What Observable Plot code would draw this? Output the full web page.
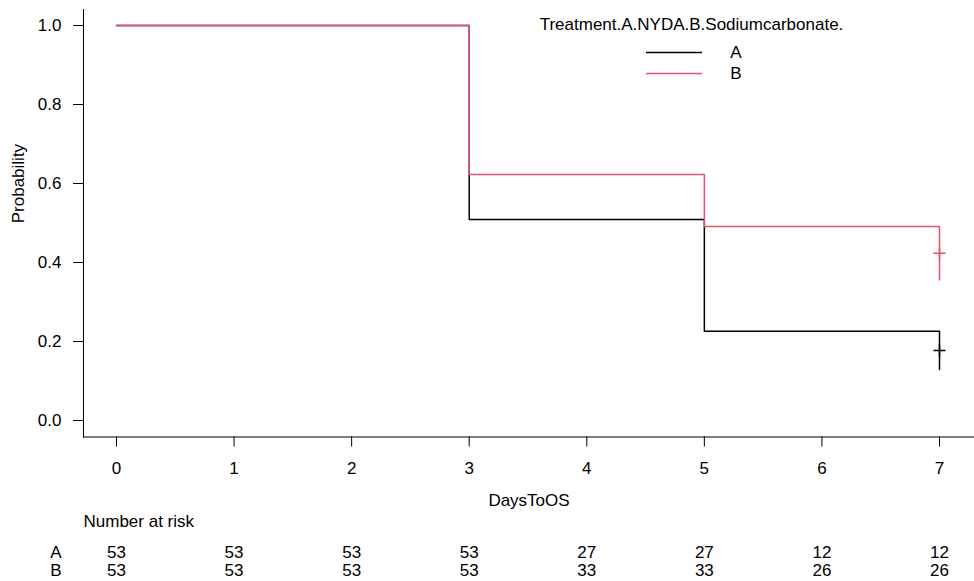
<!DOCTYPE html>
<html>
<head>
<meta charset="utf-8">
<script src="https://cdn.jsdelivr.net/npm/d3@7"></script>
<script src="https://cdn.jsdelivr.net/npm/@observablehq/plot@0.6"></script>
<style>
  html, body { margin: 0; padding: 0; background: #fff; }
  #chart { width: 974px; height: 581px; }
</style>
</head>
<body>
<div id="chart"></div>
<script>
// ---- data ----
const groups = ["A", "B"];
const groupColors = ["#000000", "#DF536B"];
const legendTitle = "Treatment.A.NYDA.B.Sodiumcarbonate.";

const stepTimes = [0, 3, 5, 7];
const survA = [1.0, 0.509, 0.226, 0.129];
const survB = [1.0, 0.623, 0.491, 0.356];

const censorTimes = [7];
const censorA = [0.177];
const censorB = [0.4235];

const riskTimes = [0, 1, 2, 3, 4, 5, 6, 7];
const riskA = [53, 53, 53, 53, 27, 27, 12, 12];
const riskB = [53, 53, 53, 53, 33, 33, 26, 26];

const yTicks = [0, 0.2, 0.4, 0.6, 0.8, 1.0];
const xLabel = "DaysToOS";
const yLabel = "Probability";
const riskTitle = "Number at risk";

// ---- tables built from the arrays ----
const curves = [
  ...stepTimes.map((t, i) => ({group: "A", time: t, surv: survA[i]})),
  ...stepTimes.map((t, i) => ({group: "B", time: t, surv: survB[i]}))
];
const censors = [
  ...censorTimes.map((t, i) => ({group: "A", time: t, surv: censorA[i]})),
  ...censorTimes.map((t, i) => ({group: "B", time: t, surv: censorB[i]}))
];
const riskRowA = riskTimes.map((t, i) => ({time: t, n: riskA[i]}));
const riskRowB = riskTimes.map((t, i) => ({time: t, n: riskB[i]}));

const font = "'Liberation Sans', Arial, Helvetica, sans-serif";
const fs = "17px";

const plot = Plot.plot({
  width: 974,
  height: 581,
  marginLeft: 83,
  marginRight: 0,
  marginTop: 9,
  marginBottom: 144.5,
  style: {fontFamily: font, fontSize: fs, color: "#000", background: "#fff"},
  x: {domain: [0, 7], insetLeft: 33, insetRight: 35},
  y: {domain: [0, 1], insetTop: 16, insetBottom: 16.5},
  color: {domain: groups, range: groupColors},
  marks: [
    Plot.frame({anchor: "left", stroke: "#000"}),
    Plot.frame({anchor: "bottom", stroke: "#000"}),
    Plot.axisY({ticks: yTicks, tickSize: 10, tickPadding: 12, tickFormat: d3.format(".1f"), label: null, stroke: "#000"}),
    Plot.axisX({ticks: riskTimes, tickSize: 10, tickPadding: 15, tickFormat: d3.format("d"), label: null, stroke: "#000"}),
    Plot.line(curves, {x: "time", y: "surv", z: "group", stroke: "group", curve: "step-after", strokeWidth: 1.5}),
    Plot.dot(censors, {x: "time", y: "surv", stroke: "group", symbol: "plus", r: 4, strokeWidth: 1.5}),
    Plot.text([xLabel], {text: d => d, frameAnchor: "bottom", dy: 63.5, lineAnchor: "middle"}),
    Plot.text([yLabel], {text: d => d, frameAnchor: "left", dx: -65, rotate: -90, lineAnchor: "middle"}),
    Plot.text([riskTitle], {text: d => d, frameAnchor: "bottom-left", dy: 84.5, textAnchor: "start", lineAnchor: "middle"}),
    Plot.text(["A"], {text: d => d, frameAnchor: "bottom-left", dx: -27.5, dy: 115.5, textAnchor: "middle", lineAnchor: "middle"}),
    Plot.text(["B"], {text: d => d, frameAnchor: "bottom-left", dx: -27.5, dy: 134, textAnchor: "middle", lineAnchor: "middle"}),
    Plot.text(riskRowA, {x: "time", text: "n", frameAnchor: "bottom", dy: 115.5, lineAnchor: "middle"}),
    Plot.text(riskRowB, {x: "time", text: "n", frameAnchor: "bottom", dy: 134, lineAnchor: "middle"})
  ]
});

document.getElementById("chart").appendChild(plot);

// ---- legend (added onto the figure) ----
const svg = d3.select(plot);
const lg = svg.append("g").attr("font-family", font).attr("font-size", fs).attr("fill", "#000");
lg.append("text").attr("x", 691.5).attr("y", 29.5).attr("text-anchor", "middle").text(legendTitle);
groups.forEach((g, i) => {
  const yy = 52.5 + i * 21;
  lg.append("line").attr("x1", 646).attr("x2", 702).attr("y1", yy).attr("y2", yy)
    .attr("stroke", groupColors[i]).attr("stroke-width", 1.5);
  lg.append("text").attr("x", 736).attr("y", yy).attr("dy", "0.35em").attr("text-anchor", "middle").text(g);
});
</script>
</body>
</html>
